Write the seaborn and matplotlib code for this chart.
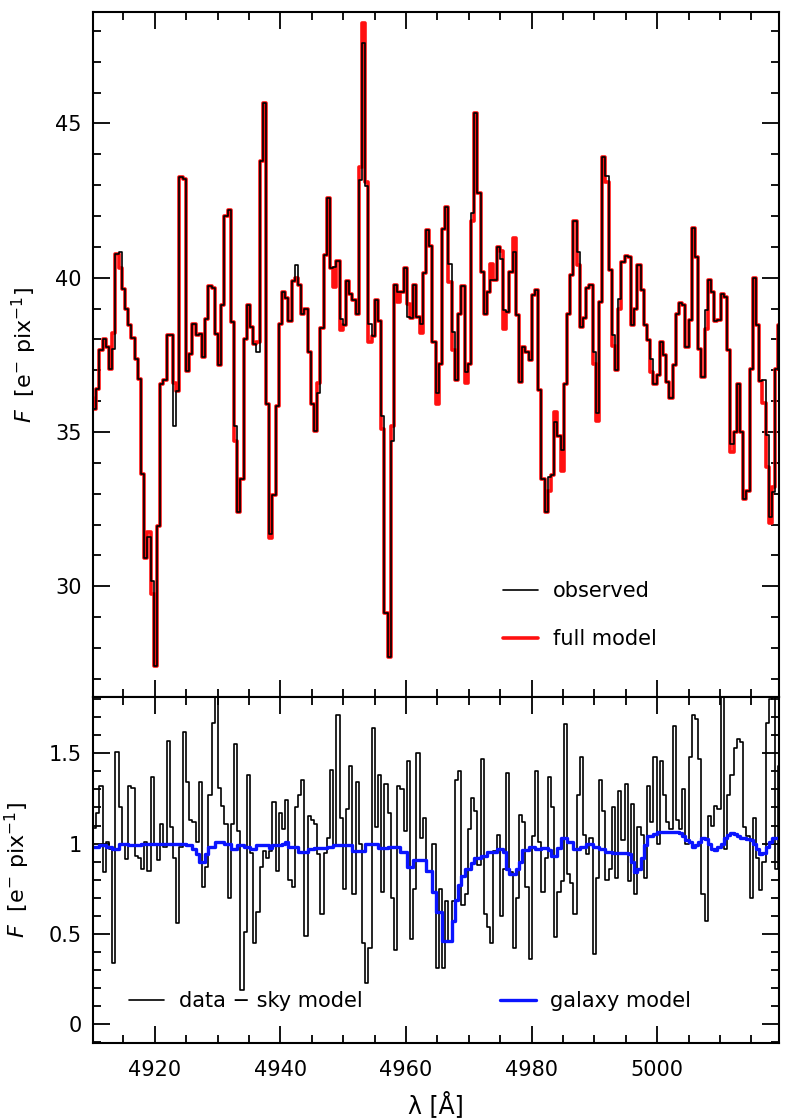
import numpy as np
import pandas as pd
import seaborn as sns
import matplotlib
matplotlib.use("Agg")
import matplotlib.pyplot as plt
from matplotlib.ticker import MultipleLocator, FormatStrFormatter
from matplotlib.lines import Line2D

# wavelength grid of the spectrum (pixel centres, Angstrom)
lam_start = 4909.9
lam_step = 0.51

# top panel: observed spectrum [e- / pix]
observed = [
    35.6, 35.75, 36.4, 37.64, 38.0, 37.75, 37.05, 37.7, 40.78, 40.83,
    39.64, 38.99, 38.45, 38.04, 37.37, 36.72, 33.64, 30.93, 31.58, 30.17,
    27.4, 31.96, 36.56, 36.67, 38.15, 38.15, 35.2, 36.34, 43.25, 43.2,
    36.99, 37.53, 38.5, 38.13, 38.18, 37.42, 38.67, 39.73, 39.66, 38.18,
    37.18, 39.1, 42.0, 42.2, 38.56, 35.2, 32.39, 33.47, 38.02, 39.1,
    38.4, 37.86, 37.6, 43.78, 45.66, 35.92, 31.68, 32.96, 35.85, 38.51,
    39.55, 39.34, 38.6, 39.88, 40.42, 39.75, 38.81, 38.97, 37.6, 35.92,
    35.04, 36.25, 38.38, 40.75, 42.57, 40.31, 40.35, 40.55, 38.67, 38.47,
    39.88, 39.48, 39.28, 38.81, 43.17, 47.61, 42.97, 38.51, 38.11, 39.28,
    38.6, 35.51, 29.13, 27.72, 34.71, 39.75, 39.55, 39.55, 40.31, 38.74,
    38.7, 39.75, 38.74, 38.51, 40.15, 41.56, 41.02, 37.93, 36.25, 37.19,
    41.59, 42.3, 40.43, 38.24, 36.67, 38.83, 39.73, 36.94, 37.21, 42.08,
    45.33, 42.76, 40.17, 38.83, 39.52, 39.92, 39.92, 41.0, 40.62, 38.94,
    38.89, 40.19, 40.82, 38.78, 36.62, 37.75, 37.59, 37.32, 39.45, 39.59,
    36.35, 33.48, 32.4, 33.53, 33.59, 35.32, 34.88, 34.4, 36.56, 38.83,
    40.08, 41.83, 40.84, 38.4, 38.7, 39.65, 39.75, 37.59, 35.62, 39.21,
    43.92, 43.3, 40.24, 38.13, 37.0, 39.32, 40.51, 40.71, 40.67, 38.45,
    39.0, 40.4, 39.59, 38.48, 37.97, 37.35, 36.56, 36.83, 37.91, 37.5,
    36.61, 36.1, 37.16, 38.83, 39.19, 39.1, 37.75, 38.62, 41.62, 40.67,
    37.7, 36.78, 38.94, 39.92, 39.52, 38.59, 38.62, 39.46, 39.37, 37.64,
    34.61, 34.99, 36.56, 34.99, 32.83, 33.1, 37.05, 39.99, 38.45, 36.64,
    36.67, 34.9, 32.23, 33.04, 37.05, 38.45,
]

# full model: equal to the observed values except at these pixels
model_diff = {
    0: 36.1, 7: 38.2, 9: 40.3, 18: 31.75, 19: 29.75, 26: 36.6, 45: 34.7,
    52: 37.9, 56: 31.55, 64: 39.98, 71: 36.6, 76: 39.7, 78: 38.3, 84: 43.6,
    85: 48.25, 86: 43.1, 87: 37.9, 91: 35.1, 94: 35.2, 96: 39.2, 99: 39.15,
    103: 38.2, 108: 35.9, 112: 39.86, 113: 37.65, 117: 36.6, 119: 41.85,
    125: 40.45, 128: 40.85, 129: 38.35, 132: 41.3, 143: 33.1, 145: 35.65,
    147: 33.75, 152: 40.4, 157: 37.2, 158: 35.35, 161: 43.1, 163: 37.8,
    165: 39.0, 175: 36.95, 192: 38.35, 200: 34.35, 210: 35.95, 211: 33.85,
    212: 32.05, 213: 33.2,
}

# bottom panel: data minus sky model [e- / pix]
residual = [
    0.47, 1.085, 1.17, 1.32, 0.845, 1.01, 0.97, 0.34, 1.51, 1.2,
    0.99, 0.915, 1.32, 1.31, 0.93, 0.92, 0.86, 1.01, 0.85, 1.37,
    0.99, 0.91, 1.11, 0.98, 1.57, 1.09, 0.92, 0.56, 0.98, 1.62,
    1.34, 1.13, 1.12, 1.01, 1.34, 0.76, 0.87, 1.27, 1.67, 1.85,
    1.31, 1.21, 1.11, 0.70, 1.11, 1.55, 1.07, 0.19, 0.51, 1.38,
    0.95, 0.45, 0.62, 0.87, 0.96, 0.92,
    0.96, 1.23, 0.85, 1.17, 1.08, 1.24, 0.80, 0.76, 1.20, 1.27,
    1.35, 0.49, 1.15, 1.13, 1.11, 0.94, 0.61, 0.95, 1.03, 1.41,
    0.99, 1.71, 1.14, 0.75, 1.19, 1.43, 0.72, 1.34, 1.0, 0.45,
    0.23, 0.42, 1.64, 1.09, 1.38, 0.73, 1.33, 1.17, 0.70, 0.41,
    1.32, 1.30, 1.07, 1.46, 0.47, 0.75, 1.50, 1.03, 1.14, 0.84,
    0.84, 1.0, 0.31, 0.75, 0.31, 0.68, 0.46,
    0.68, 1.35, 1.40, 0.66, 0.72, 1.08, 1.25, 1.18, 0.88, 1.47,
    0.61, 0.54, 0.45, 0.96, 1.05, 0.60, 0.86, 1.39, 0.84, 0.42,
    0.70, 1.16, 1.12, 0.76, 0.36, 1.04, 1.40, 1.01, 0.73, 0.92,
    1.37, 1.20, 0.48, 0.73, 0.79, 1.66, 0.83, 0.78, 0.61, 1.27,
    1.48, 1.05, 0.94, 1.03, 0.39, 0.81, 1.35, 1.18, 0.80, 0.86,
    1.20, 0.81, 1.29, 1.02,
    1.33, 0.79, 1.22, 0.72, 1.09, 1.05, 0.81, 1.32, 1.12, 1.48,
    1.0, 1.46, 1.27, 1.12, 1.08, 1.65, 1.13, 1.08, 1.30, 1.0,
    1.48, 1.71, 1.69, 1.47, 0.72, 0.57, 1.15, 1.10, 1.21, 1.19,
    1.85, 0.97, 1.27, 1.38, 1.53, 1.58, 1.56, 1.09, 1.04, 0.70,
    1.14, 0.92, 0.74, 0.90, 1.67, 1.80, 1.85, 0.86, 1.43, 1.44,
]

# galaxy model on the same pixels
galaxy = [
    0.98, 0.98, 0.98, 0.99, 0.99, 0.98, 0.98, 0.97, 0.97, 0.995,
    0.995, 0.995, 0.99, 0.99, 0.99, 0.99, 0.995, 0.995, 0.995, 0.995,
    1.0, 1.0, 1.0, 1.0, 1.0, 1.0, 0.995, 0.995, 0.995, 0.995,
    0.99, 0.99, 0.97, 0.94, 0.90, 0.90, 0.94, 0.98, 0.98, 1.01,
    1.01, 1.01, 1.0, 1.0, 0.97, 0.97, 0.99, 0.99, 0.98, 0.98,
    0.97, 0.97, 0.99, 0.99, 0.99, 0.99,
    0.975, 0.99, 0.99, 0.99, 1.0, 1.01, 0.98, 0.98, 0.98, 0.955,
    0.955, 0.955, 0.97, 0.97, 0.975, 0.975, 0.975, 0.975, 0.98, 0.98,
    0.99, 0.99, 0.99, 0.99, 0.99, 0.99, 0.96, 0.96, 0.96, 0.96,
    0.995, 0.995, 0.995, 0.995, 0.975, 0.975, 0.975, 0.98, 0.98, 0.98,
    0.98, 0.955, 0.955, 0.87, 0.87, 0.91, 0.91, 0.91, 0.91, 0.85,
    0.85, 0.73, 0.62, 0.62, 0.46, 0.46, 0.46,
    0.57, 0.69, 0.77, 0.82, 0.86, 0.86, 0.89, 0.92, 0.92, 0.93,
    0.93, 0.955, 0.955, 0.955, 0.97, 0.97, 0.955, 0.86, 0.83, 0.83,
    0.86, 0.90, 0.965, 0.965, 0.98, 0.98, 0.97, 0.97, 0.975, 0.975,
    0.965, 0.93, 0.93, 0.975, 1.03, 1.03, 1.01, 1.01, 0.97, 0.97,
    0.98, 0.98, 0.995, 0.995, 0.98, 0.98, 0.97, 0.97, 0.955, 0.955,
    0.95, 0.95, 0.95, 0.95,
    0.95, 0.94, 0.90, 0.845, 0.86, 0.92, 0.99, 1.04, 1.04, 1.055,
    1.065, 1.065, 1.065, 1.065, 1.065, 1.065, 1.065, 1.06, 1.04, 1.02,
    1.01, 0.98, 0.99, 1.01, 1.03, 1.025, 1.0, 0.97, 0.965, 0.98,
    1.0, 1.03, 1.05, 1.06, 1.055, 1.04, 1.03, 1.03, 1.025, 1.02,
    0.995, 0.97, 0.94, 0.945, 0.98, 1.01, 1.03, 1.03, 1.03, 1.03,
]

x_ticks = [4920, 4940, 4960, 4980, 5000]

top = pd.DataFrame({"wave": lam_start + lam_step * np.arange(len(observed)),
                    "observed": observed})
top["model"] = top["observed"]
for i, v in model_diff.items():
    top.loc[i, "model"] = v

bot = pd.DataFrame({"wave": lam_start + lam_step * np.arange(len(residual)),
                    "residual": residual, "galaxy": galaxy})

sns.set_style("ticks")
plt.rcParams["font.family"] = ["DejaVu Sans"]
plt.rcParams["mathtext.fontset"] = "dejavusans"
for k in ["text.color", "axes.labelcolor", "xtick.color", "ytick.color", "axes.edgecolor"]:
    plt.rcParams[k] = "black"

red = "#ff1010"
blue = "#0a14ff"

fig = plt.figure(figsize=(7.89, 11.18), dpi=100)
ax1 = fig.add_axes([0.11787, 0.37657, 0.86946, 0.61270])
ax2 = fig.add_axes([0.11787, 0.06708, 0.86946, 0.30948])

# top panel
sns.lineplot(data=top, x="wave", y="model", ax=ax1, color=red, lw=2.6,
             drawstyle="steps-mid", estimator=None, sort=False)
sns.lineplot(data=top, x="wave", y="observed", ax=ax1, color="black", lw=1.2,
             drawstyle="steps-mid", estimator=None, sort=False)
ax1.set_ylim(26.41, 48.61)
ax1.yaxis.set_major_locator(MultipleLocator(5))
ax1.yaxis.set_minor_locator(MultipleLocator(1))
h1 = [Line2D([], [], color="black", lw=1.2), Line2D([], [], color=red, lw=2.6)]
ax1.legend(h1, ["observed", "full model"], loc="lower right", frameon=False,
           fontsize=15, handlelength=1.7, handletextpad=0.7, labelspacing=1.35,
           bbox_to_anchor=(0.849, 0.042))
ax1.tick_params(labelbottom=False)

# bottom panel
sns.lineplot(data=bot, x="wave", y="residual", ax=ax2, color="black", lw=1.2,
             drawstyle="steps-mid", estimator=None, sort=False)
sns.lineplot(data=bot, x="wave", y="galaxy", ax=ax2, color=blue, lw=2.4,
             drawstyle="steps-mid", estimator=None, sort=False)
ax2.set_ylim(-0.105, 1.812)
ax2.yaxis.set_major_locator(MultipleLocator(0.5))
ax2.yaxis.set_minor_locator(MultipleLocator(0.1))
ax2.yaxis.set_major_formatter(FormatStrFormatter("%g"))
h2 = [Line2D([], [], color="black", lw=1.2), Line2D([], [], color=blue, lw=2.4)]
ax2.legend(h2, ["data \u2212 sky model", "galaxy model"], loc="lower left", ncol=2,
           frameon=False, fontsize=15, handlelength=1.7, handletextpad=0.7,
           columnspacing=6.6, bbox_to_anchor=(0.025, 0.037))
ax2.set_xticks(x_ticks)
ax2.set_xlabel("\u03bb [\u00c5]", fontsize=17, labelpad=8)

for ax in (ax1, ax2):
    ax.set_xlim(4910.15, 5019.4)
    ax.xaxis.set_minor_locator(MultipleLocator(5))
    ax.set_ylabel(r"$F$  [e$^{-}$ pix$^{-1}$]", fontsize=16, labelpad=12)
    ax.tick_params(which="both", direction="in", top=True, right=True,
                   width=1.3, labelsize=15, pad=8)
    ax.tick_params(which="major", length=12)
    ax.tick_params(which="minor", length=6)
    for s in ax.spines.values():
        s.set_linewidth(1.5)

ax2.tick_params(axis="x", pad=12)
fig.savefig("out.png", dpi=100)
